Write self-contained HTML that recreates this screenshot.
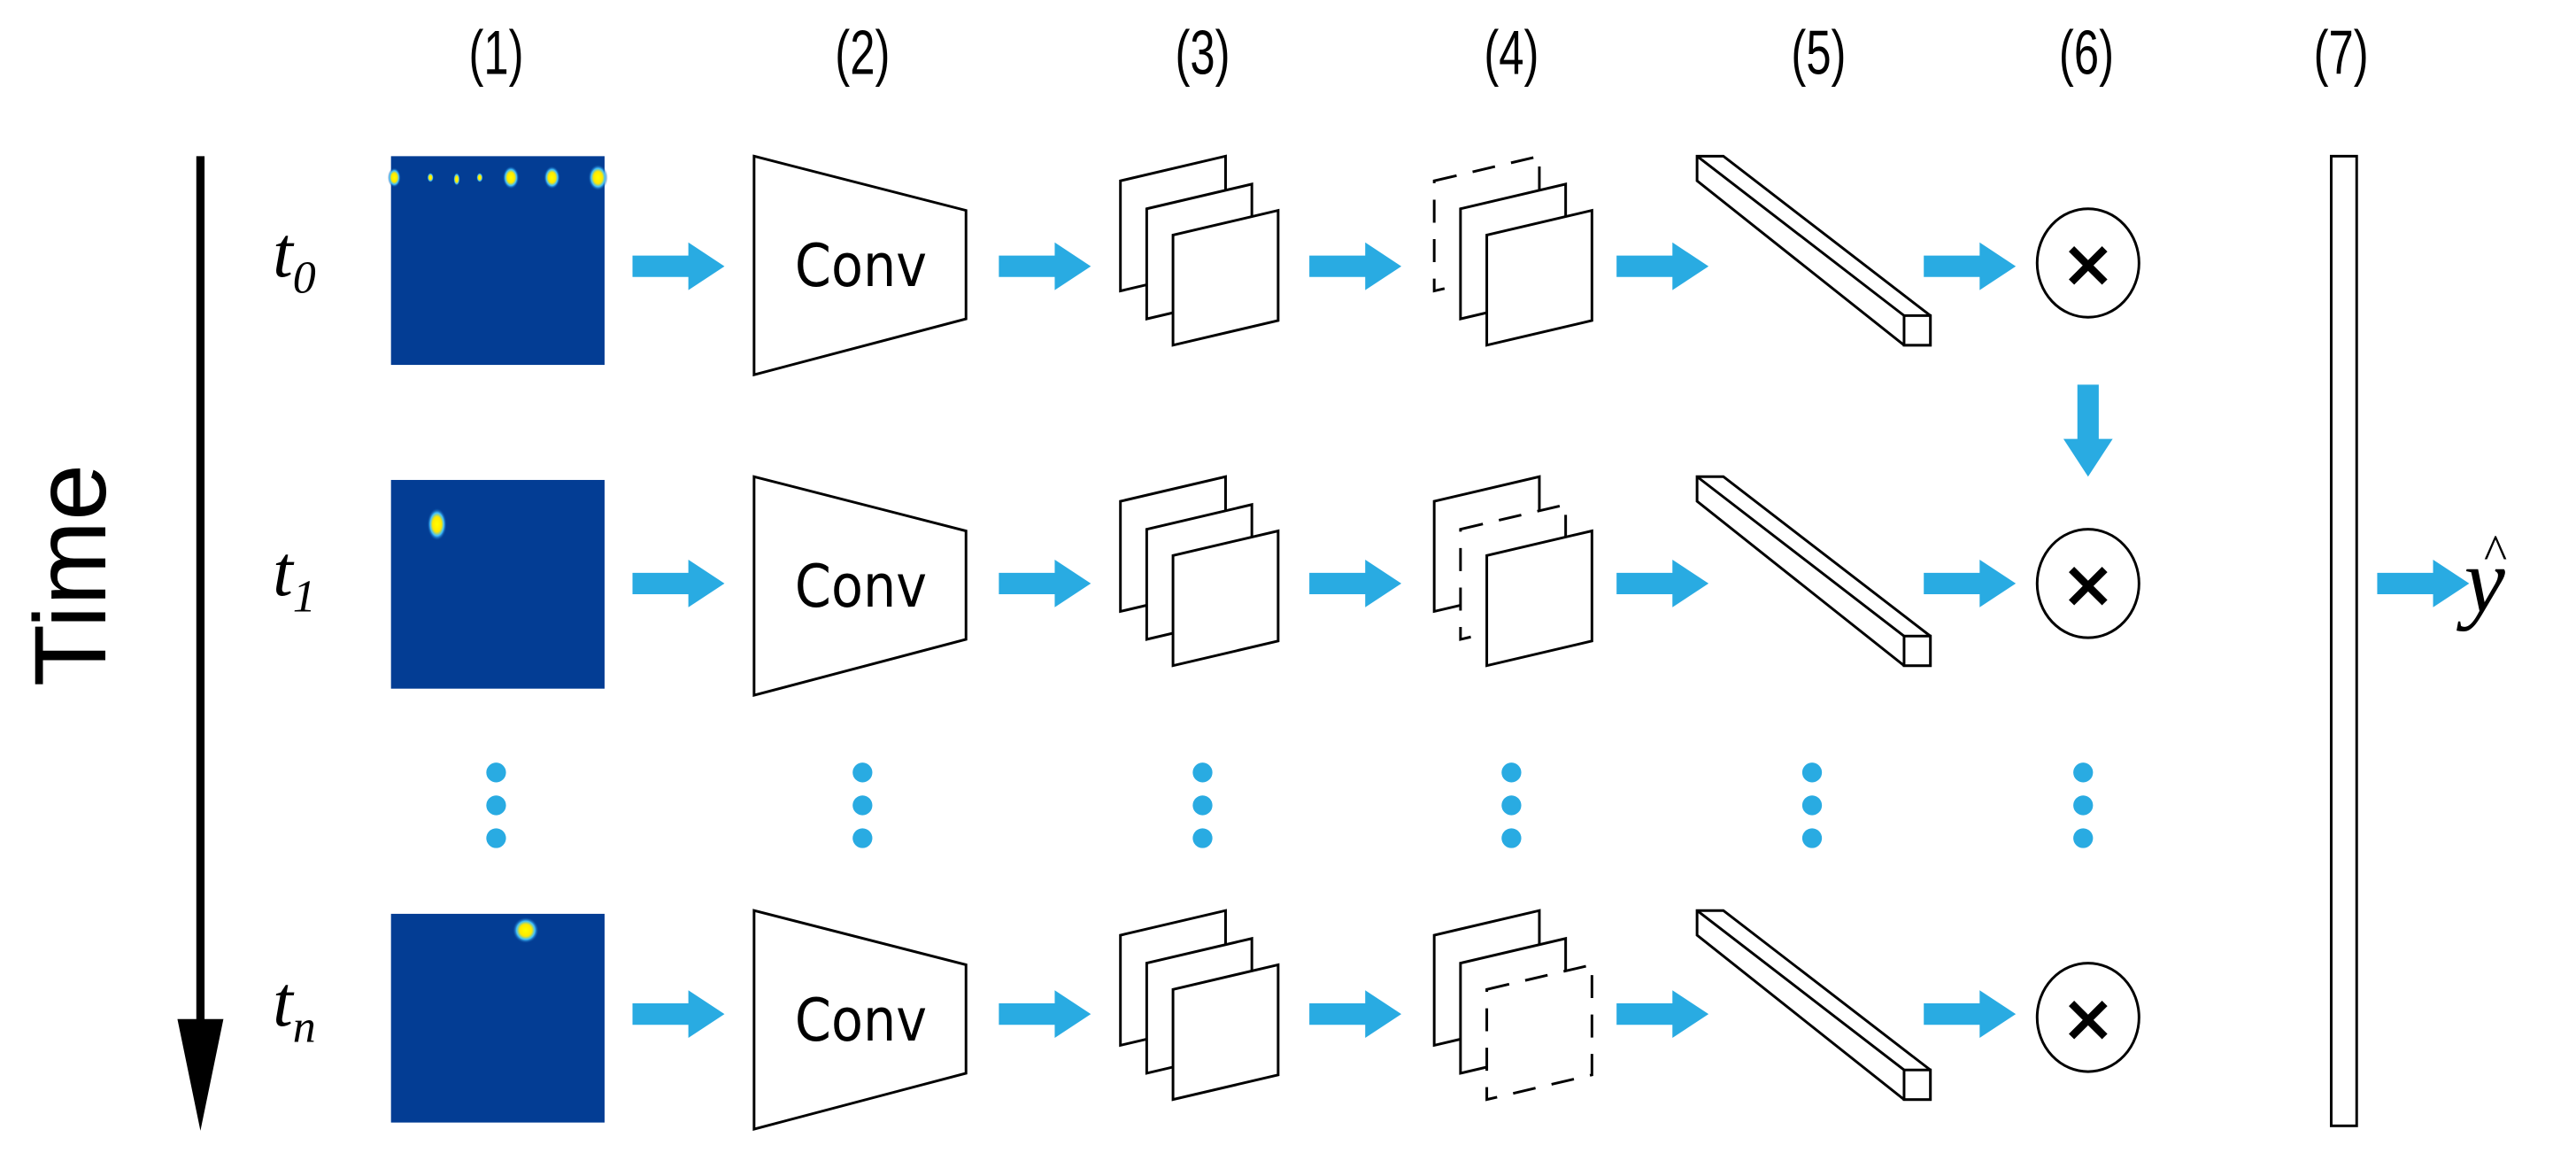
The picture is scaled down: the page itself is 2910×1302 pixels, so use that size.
<!DOCTYPE html>
<html><head><meta charset="utf-8"><style>
html,body{margin:0;padding:0;background:#fff}
svg{display:block}
</style></head><body>
<svg width="2910" height="1302" viewBox="0 0 1568 701.5" xmlns="http://www.w3.org/2000/svg">
<defs>
<path id="ar" d="M0,-6.5 H34 V-14.5 L56,0 L34,14.5 V6.5 H0 Z" fill="#29abe2"/>
<g id="conv">
<polygon points="459,95 588,128 588,194 459,228" fill="#fff" stroke="#000" stroke-width="1.6"/>
<text transform="translate(524,174) scale(0.88,1)" font-family="DejaVu Sans, sans-serif" font-size="36" text-anchor="middle">Conv</text>
</g>
<polygon id="pl" points="0,15 64,0 64,67 0,82" fill="#fff" stroke="#000" stroke-width="1.6"/>
<polygon id="pld" points="0,15 64,0 64,67 0,82" fill="#fff" stroke="#000" stroke-width="1.6" stroke-dasharray="14,10"/>
<g id="bar" fill="#fff" stroke="#000" stroke-width="1.6">
<polygon points="1033,95 1049,95 1175,192 1175,210 1159,210 1033,110"/>
<line x1="1033" y1="95" x2="1159" y2="192"/>
<rect x="1159" y="192" width="16" height="18"/>
</g>
<g id="mul">
<ellipse cx="1271" cy="160" rx="31" ry="33" fill="#fff" stroke="#000" stroke-width="1.6"/>
<text x="1271" y="174" font-family="DejaVu Sans, sans-serif" font-size="40" font-weight="bold" text-anchor="middle">×</text>
</g>
<g id="arrows">
<use href="#ar" x="385" y="162"/>
<use href="#ar" x="608" y="162"/>
<use href="#ar" x="797" y="162"/>
<use href="#ar" x="984" y="162"/>
<use href="#ar" x="1171" y="162"/>
</g>
<radialGradient id="sp"><stop offset="0" stop-color="#ffff00"/><stop offset="0.45" stop-color="#ffe800"/><stop offset="0.7" stop-color="#40c0ff"/><stop offset="1" stop-color="#033d94" stop-opacity="0"/></radialGradient>
</defs>
<g font-family="Liberation Sans, sans-serif" font-size="38" text-anchor="middle">
<text transform="translate(302,45) scale(0.72,1)">(1)</text>
<text transform="translate(525,45) scale(0.72,1)">(2)</text>
<text transform="translate(732,45) scale(0.72,1)">(3)</text>
<text transform="translate(920,45) scale(0.72,1)">(4)</text>
<text transform="translate(1107,45) scale(0.72,1)">(5)</text>
<text transform="translate(1270,45) scale(0.72,1)">(6)</text>
<text transform="translate(1425,45) scale(0.72,1)">(7)</text>
</g>
<rect x="119.5" y="95" width="5" height="540" fill="#000"/>
<polygon points="108,620 136,620 122,688" fill="#000"/>
<text transform="translate(64,350) rotate(-90)" font-family="Liberation Sans, sans-serif" font-size="62" text-anchor="middle">Time</text>
<g font-family="Liberation Serif, serif" font-style="italic" font-size="44">
<text x="166" y="168">t<tspan font-size="28" dy="10">0</tspan></text>
<text x="166" y="362">t<tspan font-size="28" dy="10">1</tspan></text>
<text x="166" y="624">t<tspan font-size="28" dy="10">n</tspan></text>
</g>
<!-- heatmaps -->
<rect x="238" y="95" width="130" height="127" fill="#033d94"/>
<ellipse cx="240" cy="108" rx="4" ry="6" fill="url(#sp)"/>
<ellipse cx="262" cy="108" rx="2" ry="3" fill="url(#sp)"/>
<ellipse cx="278" cy="109" rx="2" ry="4" fill="url(#sp)"/>
<ellipse cx="292" cy="108" rx="2" ry="3" fill="url(#sp)"/>
<ellipse cx="311" cy="108" rx="5" ry="7" fill="url(#sp)"/>
<ellipse cx="336" cy="108" rx="5" ry="7" fill="url(#sp)"/>
<ellipse cx="364" cy="108" rx="6" ry="8" fill="url(#sp)"/>
<rect x="238" y="292" width="130" height="127" fill="#033d94"/>
<ellipse cx="266" cy="319" rx="6" ry="10" fill="url(#sp)"/>
<rect x="238" y="556" width="130" height="127" fill="#033d94"/>
<ellipse cx="320" cy="566" rx="8" ry="8" fill="url(#sp)"/>
<!-- row 0 -->
<use href="#conv"/>
<use href="#pl" x="682" y="95"/><use href="#pl" x="698" y="112"/><use href="#pl" x="714" y="128"/>
<use href="#pld" x="873" y="95"/><use href="#pl" x="889" y="112"/><use href="#pl" x="905" y="128"/>
<use href="#bar"/><use href="#mul"/><use href="#arrows"/>
<!-- row 1 -->
<g transform="translate(0,195)">
<use href="#conv"/>
<use href="#pl" x="682" y="95"/><use href="#pl" x="698" y="112"/><use href="#pl" x="714" y="128"/>
<use href="#pl" x="873" y="95"/><use href="#pld" x="889" y="112"/><use href="#pl" x="905" y="128"/>
<use href="#bar"/><use href="#mul"/>
</g>
<g transform="translate(0,193)"><use href="#arrows"/></g>
<!-- row n -->
<g transform="translate(0,459)">
<use href="#conv"/>
<use href="#pl" x="682" y="95"/><use href="#pl" x="698" y="112"/><use href="#pl" x="714" y="128"/>
<use href="#pl" x="873" y="95"/><use href="#pl" x="889" y="112"/><use href="#pld" x="905" y="128"/>
<use href="#bar"/><use href="#mul"/>
</g>
<g transform="translate(0,455)"><use href="#arrows"/></g>
<!-- down arrow -->
<path d="M1264.5,234 H1277.5 V267 H1286 L1271,290 L1256,267 H1264.5 Z" fill="#29abe2"/>
<!-- dots -->
<g fill="#29abe2">
<circle cx="302" cy="470" r="6"/><circle cx="302" cy="490" r="6"/><circle cx="302" cy="510" r="6"/>
<circle cx="525" cy="470" r="6"/><circle cx="525" cy="490" r="6"/><circle cx="525" cy="510" r="6"/>
<circle cx="732" cy="470" r="6"/><circle cx="732" cy="490" r="6"/><circle cx="732" cy="510" r="6"/>
<circle cx="920" cy="470" r="6"/><circle cx="920" cy="490" r="6"/><circle cx="920" cy="510" r="6"/>
<circle cx="1103" cy="470" r="6"/><circle cx="1103" cy="490" r="6"/><circle cx="1103" cy="510" r="6"/>
<circle cx="1268" cy="470" r="6"/><circle cx="1268" cy="490" r="6"/><circle cx="1268" cy="510" r="6"/>
</g>
<!-- (7) -->
<rect x="1419" y="95" width="15.5" height="590" fill="#fff" stroke="#000" stroke-width="1.6"/>
<use href="#ar" x="1447" y="355"/>
<text x="1500" y="372" font-family="Liberation Serif, serif" font-style="italic" font-size="56">y</text>
<text x="1519" y="346" font-family="Liberation Serif, serif" font-size="30" text-anchor="middle">^</text>
</svg>
</body></html>
